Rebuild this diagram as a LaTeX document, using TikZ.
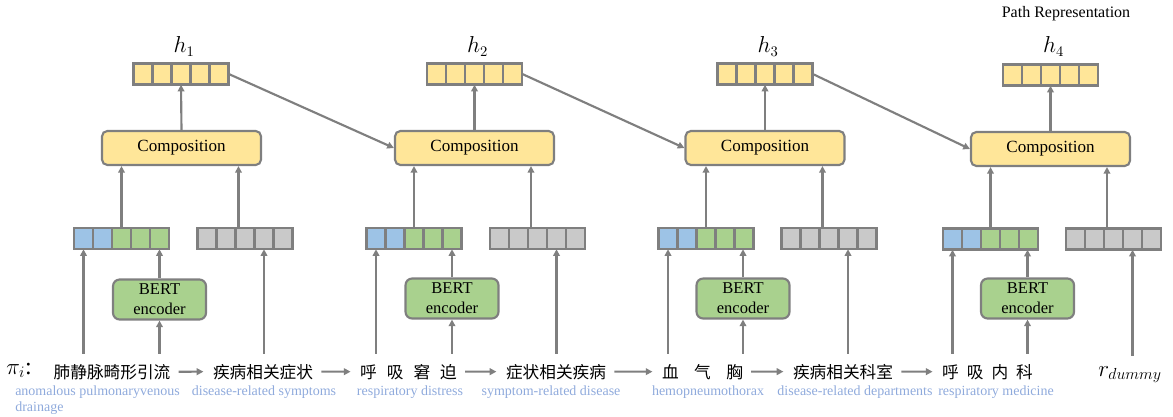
\documentclass[tikz,border=0pt]{standalone}
\usepackage{fontspec}
\setmainfont{Liberation Serif}
\newfontfamily\cjk{Noto Sans CJK SC}
\usetikzlibrary{arrows.meta}
\definecolor{lgray}{RGB}{127,127,127}
\definecolor{yel}{HTML}{FFE699}
\definecolor{cblue}{HTML}{9DC3E6}
\definecolor{cgreen}{HTML}{A9D18E}
\definecolor{cgray}{HTML}{C9C9C9}
\definecolor{lblue}{HTML}{8FAADC}
\newcommand\cellvec[4]{%
  \node[vecbox] (#1) at (#2,#3) {};
  \foreach \cc [count=\k from 0] in {#4}{
    \draw[cellst,fill=\cc] (#2-47.5+19*\k,#3-10.5) rectangle (#2-28.5+19*\k,#3+10.5);
  }%
}
\tikzset{
  vecbox/.style={minimum width=71.25pt,minimum height=15.75pt,inner sep=0pt,draw=none},
  cellst/.style={draw=lgray,line width=1.6pt},
  comp/.style={draw=lgray,fill=yel,line width=1.6pt,rounded corners=4pt,
    minimum width=119.25pt,minimum height=25.5pt,inner sep=0pt,
    font=\fontsize{12.8}{14}\selectfont},
  bert/.style={draw=lgray,fill=cgreen,line width=1.6pt,rounded corners=5pt,
    minimum width=69.75pt,minimum height=30pt,inner sep=0pt,align=center,
    font=\fontsize{12.4}{15}\selectfont},
  arr/.style={draw=lgray,line width=1.6pt,-{Triangle[length=5pt,width=5pt]}},
  tarr/.style={arr,shorten <=7.5pt},
  harr/.style={arr,shorten <=6pt,shorten >=7pt},
  word/.style={font=\cjk\fontsize{12.5}{14}\selectfont,inner sep=0pt,anchor=base},
  en/.style={font=\fontsize{10.5}{12}\selectfont,text=lblue,inner sep=0pt,anchor=base},
  hlab/.style={font=\fontsize{16}{18}\selectfont,inner sep=0pt,anchor=base},
}
\begin{document}
\begin{tikzpicture}[x=0.75pt,y=-0.75pt]
\useasboundingbox (0,0) rectangle (1173,417);

% hidden vectors
\cellvec{h1}{181}{74}{yel,yel,yel,yel,yel}
\cellvec{h2}{474.5}{74}{yel,yel,yel,yel,yel}
\cellvec{h3}{765}{74}{yel,yel,yel,yel,yel}
\cellvec{h4}{1050.5}{75}{yel,yel,yel,yel,yel}

\node[hlab] (lh1) at (184,53) {$h_1$};
\node[hlab] (lh2) at (477.5,53) {$h_2$};
\node[hlab] (lh3) at (768,53) {$h_3$};
\node[hlab] (lh4) at (1053.5,53) {$h_4$};
\node[font=\fontsize{12}{14}\selectfont,inner sep=0pt,anchor=base] (pr) at (1066,18) {Path Representation};

% composition boxes
\node[comp] (c1) at (181.5,148) {Composition};
\node[comp] (c2) at (474.5,148) {Composition};
\node[comp] (c3) at (765,148) {Composition};
\node[comp] (c4) at (1050.5,149) {Composition};

% input vectors
\cellvec{v1}{121.5}{238.5}{cblue,cblue,cgreen,cgreen,cgreen}
\cellvec{g1}{245}{238.5}{cgray,cgray,cgray,cgray,cgray}
\cellvec{v2}{414}{238.5}{cblue,cblue,cgreen,cgreen,cgreen}
\cellvec{g2}{537.5}{238.5}{cgray,cgray,cgray,cgray,cgray}
\cellvec{v3}{706}{238.5}{cblue,cblue,cgreen,cgreen,cgreen}
\cellvec{g3}{829}{238.5}{cgray,cgray,cgray,cgray,cgray}
\cellvec{v4}{990.5}{239}{cblue,cblue,cgreen,cgreen,cgreen}
\cellvec{g4}{1113.5}{239}{cgray,cgray,cgray,cgray,cgray}

% BERT encoders
\node[bert] (b1) at (159.5,299.5) {BERT\\encoder};
\node[bert] (b2) at (452,298.5) {BERT\\encoder};
\node[bert] (b3) at (743,298.5) {BERT\\encoder};
\node[bert] (b4) at (1027.5,298.5) {BERT\\encoder};

% path text
\node[font=\fontsize{18}{20}\selectfont,inner sep=0pt,anchor=base west] (pi) at (6,374) {$\pi_i$:};
\node[word] (t1) at (112,378) {肺静脉畸形引流};
\node[word] (t2) at (263,378) {疾病相关症状};
\node[word] (t3) at (408.5,378) {呼\hspace{7.5pt}吸\hspace{7.5pt}窘\hspace{7.5pt}迫};
\node[word] (t4) at (556,378) {症状相关疾病};
\node[word] (t5) at (702.5,378) {血\hspace{11.6pt}气\hspace{11.6pt}胸};
\node[word] (t6) at (843,378) {疾病相关科室};
\node[word] (t7) at (987.5,378) {呼\hspace{6pt}吸\hspace{6pt}内\hspace{6pt}科};
\node[font=\fontsize{17}{19}\selectfont,inner sep=0pt,anchor=base] (rd) at (1130,376) {$r_{dummy}$};

% english glosses
\node[en,anchor=base west,align=left] (e1) at (15,411) {anomalous pulmonaryvenous\\drainage};
\node[en] (e2) at (264,395) {disease-related symptoms};
\node[en] (e3) at (410,395) {respiratory distress};
\node[en] (e4) at (551,395) {symptom-related disease};
\node[en] (e5) at (708,395) {hemopneumothorax};
\node[en] (e6) at (855,395) {disease-related departments};
\node[en] (e7) at (996,395) {respiratory medicine};

% arrows between path words
\draw[harr] (t1.east) -- (t2.west);
\draw[harr] (t2.east) -- (t3.west);
\draw[harr] (t3.east) -- (t4.west);
\draw[harr] (t4.east) -- (t5.west);
\draw[harr] (t5.east) -- (t6.west);
\draw[harr] (t6.east) -- (t7.west);

% composition -> h
\foreach \i in {1,2,3,4}{
  \draw[arr] (c\i.north) -- (h\i.south);
  \draw[arr] (v\i.north) -- (v\i.north |- c\i.south);
  \draw[arr] ([xshift=-4.9pt]g\i.north) -- ([xshift=-4.9pt]g\i.north |- c\i.south);
  \draw[arr] (b\i.north) -- (b\i.north |- v\i.south);
}
% h -> next composition
\draw[arr] (h1.east) -- (c2.west);
\draw[arr] (h2.east) -- (c3.west);
\draw[arr] (h3.east) -- (c4.west);

% text -> encoders / vectors
\draw[tarr] ([xshift=-28.5pt]v1.south |- t1.north) -- ([xshift=-28.5pt]v1.south);
\draw[tarr] (b1.south |- t1.north) -- (b1.south);
\draw[tarr] ([xshift=14.25pt]g1.south |- t2.north) -- ([xshift=14.25pt]g1.south);
\draw[tarr] ([xshift=-28.5pt]v2.south |- t3.north) -- ([xshift=-28.5pt]v2.south);
\draw[tarr] (b2.south |- t3.north) -- (b2.south);
\draw[tarr] ([xshift=14.25pt]g2.south |- t4.north) -- ([xshift=14.25pt]g2.south);
\draw[tarr] ([xshift=-28.5pt]v3.south |- t5.north) -- ([xshift=-28.5pt]v3.south);
\draw[tarr] (b3.south |- t5.north) -- (b3.south);
\draw[tarr] ([xshift=14.25pt]g3.south |- t6.north) -- ([xshift=14.25pt]g3.south);
\draw[tarr] ([xshift=-28.5pt]v4.south |- t7.north) -- ([xshift=-28.5pt]v4.south);
\draw[tarr] (b4.south |- t7.north) -- (b4.south);
\draw[tarr] ([xshift=14.25pt]g4.south |- rd.north) -- ([xshift=14.25pt]g4.south);
\end{tikzpicture}
\end{document}
